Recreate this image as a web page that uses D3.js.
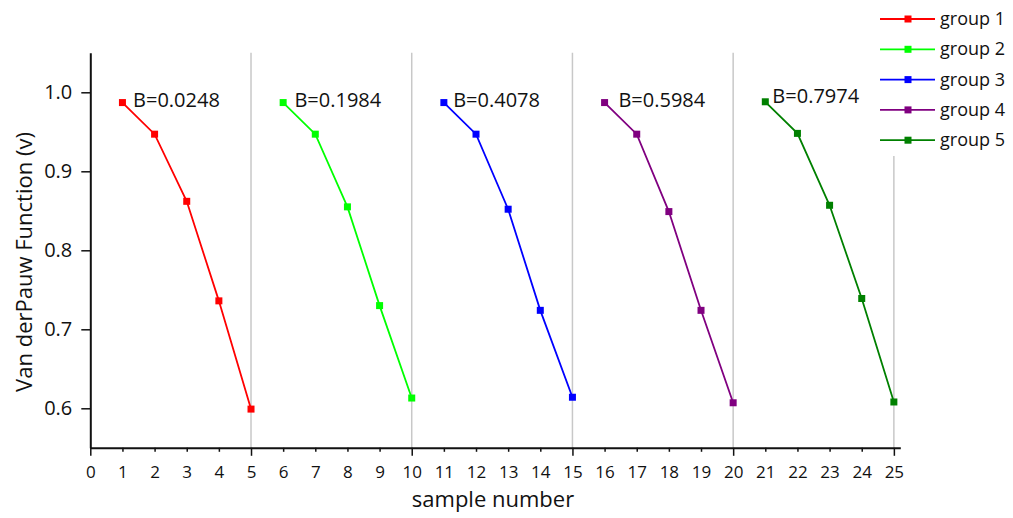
<!DOCTYPE html>
<html>
<head>
<meta charset="utf-8">
<script src="https://cdn.jsdelivr.net/npm/d3@7"></script>
<style>
  body { margin: 0; background: #fff; }
  text { font-family: "Open Sans", sans-serif; fill: #111; }
</style>
</head>
<body>
<div id="myChart"></div>
<script>
// data
let groups = ["group 1", "group 2", "group 3", "group 4", "group 5"];
let colors = ["#ff0000", "#00ff00", "#0000ff", "#800080", "#008000"];
let samples = [
  [1, 2, 3, 4, 5],
  [6, 7, 8, 9, 10],
  [11, 12, 13, 14, 15],
  [16, 17, 18, 19, 20],
  [21, 22, 23, 24, 25]
];
let values = [
  [0.987, 0.947, 0.862, 0.736, 0.599],
  [0.987, 0.947, 0.855, 0.730, 0.613],
  [0.987, 0.947, 0.852, 0.724, 0.614],
  [0.987, 0.947, 0.849, 0.724, 0.607],
  [0.988, 0.948, 0.857, 0.739, 0.608]
];
let bLabels = ["B=0.0248", "B=0.1984", "B=0.4078", "B=0.5984", "B=0.7974"];
let bLabelX = [1.33, 6.35, 11.29, 16.43, 21.22];
let bLabelY = [0.982, 0.982, 0.982, 0.982, 0.986];
let xTicks = d3.range(0, 26);
let yTicks = [0.6, 0.7, 0.8, 0.9, 1.0];
let separators = [5, 10, 15, 20, 25];

let width = 1013, height = 518;

let svg = d3.select("#myChart").append("svg")
  .attr("width", width)
  .attr("height", height);

let x = d3.scaleLinear().domain([0, 25.2]).range([90.3, 900.3]);
let y = d3.scaleLinear().domain([0.55, 1.05]).range([447.8, 52.8]);

// vertical separators
svg.selectAll(".sep")
  .data(separators)
  .enter()
  .append("line")
  .attr("class", "sep")
  .attr("x1", d => x(d)).attr("x2", d => x(d))
  .attr("y1", y(1.05)).attr("y2", y(0.55))
  .attr("stroke", "#c8c8c8")
  .attr("stroke-width", 1.5);

// x axis
let xAxis = svg.append("g")
  .attr("transform", "translate(0," + y(0.55) + ")")
  .call(d3.axisBottom(x).tickValues(xTicks).tickFormat(d3.format("d")).tickSize(8).tickSizeOuter(0).tickPadding(10));
xAxis.select(".domain").attr("stroke", "#111").attr("stroke-width", 2);
xAxis.selectAll(".tick line")
  .attr("stroke", "#111").attr("stroke-width", 1.5)
  .attr("y2", d => d % 5 === 0 ? 8 : 4);
xAxis.selectAll(".tick text").attr("font-size", 17).style("font-family", "'Open Sans', sans-serif");

// y axis
let yAxis = svg.append("g")
  .attr("transform", "translate(" + x(0) + ",0)")
  .call(d3.axisLeft(y).tickValues(yTicks).tickFormat(d3.format(".1f")).tickSize(9).tickSizeOuter(0).tickPadding(9));
yAxis.select(".domain").attr("stroke", "#111").attr("stroke-width", 2);
yAxis.selectAll(".tick line").attr("stroke", "#111").attr("stroke-width", 1.5);
yAxis.selectAll(".tick text").attr("font-size", 20).style("font-family", "'Open Sans', sans-serif");

// axis titles
svg.append("text")
  .attr("x", 493).attr("y", 507)
  .attr("text-anchor", "middle")
  .attr("font-size", 22)
  .text("sample number");

svg.append("text")
  .attr("transform", "translate(32,262) rotate(-90)")
  .attr("text-anchor", "middle")
  .attr("font-size", 22)
  .text("Van derPauw Function (v)");

// lines + markers
let line = d3.line().x(d => x(d[0])).y(d => y(d[1]));

groups.forEach((g, i) => {
  let pts = samples[i].map((s, j) => [s, values[i][j]]);
  svg.append("path")
    .datum(pts)
    .attr("fill", "none")
    .attr("stroke", colors[i])
    .attr("stroke-width", 1.8)
    .attr("d", line);
  svg.selectAll(".m" + i)
    .data(pts)
    .enter()
    .append("rect")
    .attr("x", d => x(d[0]) - 3.5)
    .attr("y", d => y(d[1]) - 3.5)
    .attr("width", 7).attr("height", 7)
    .attr("fill", colors[i]);
  svg.append("text")
    .attr("x", x(bLabelX[i]))
    .attr("y", y(bLabelY[i]))
    .attr("font-size", 20)
    .text(bLabels[i]);
});

// legend
let legend = svg.append("g");
legend.append("rect")
  .attr("x", 872).attr("y", 0)
  .attr("width", 141).attr("height", 156)
  .attr("fill", "#fff");
groups.forEach((g, i) => {
  let ly = 19 + i * 30.3;
  legend.append("line")
    .attr("x1", 880).attr("x2", 935)
    .attr("y1", ly).attr("y2", ly)
    .attr("stroke", colors[i]).attr("stroke-width", 1.8);
  legend.append("rect")
    .attr("x", 904.5).attr("y", ly - 3.5)
    .attr("width", 7).attr("height", 7)
    .attr("fill", colors[i]);
  legend.append("text")
    .attr("x", 940).attr("y", ly + 6)
    .attr("font-size", 18)
    .text(g);
});
</script>
</body>
</html>
